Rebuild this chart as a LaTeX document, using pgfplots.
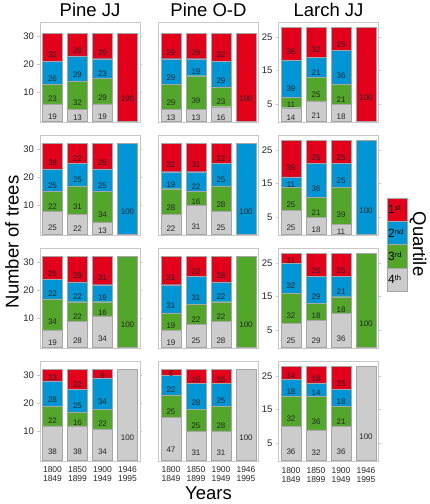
\documentclass[border=0pt]{standalone}
\usepackage{pgfplots}
\usepackage{pgfplotstable}
\pgfplotsset{compat=1.18}
\usepackage{fontspec}
\setmainfont{Liberation Sans}

\definecolor{cr}{RGB}{226,0,26}
\definecolor{cb}{RGB}{0,150,214}
\definecolor{cgn}{RGB}{82,166,42}
\definecolor{cgy}{RGB}{204,204,204}
\definecolor{frm}{RGB}{200,200,200}

% columns: x, counts of 4th,3rd,2nd,1st quartile trees, percentage labels
\pgfplotstableread{
x n4 n3 n2 n1 l4 l3 l2 l1
0 6 7 8 10 19 23 26 32
1 4 10 9 8 13 32 29 26
2 6 9 7 9 19 29 23 29
3 0 0 0 31 {} {} {} 100
}\rApj
\pgfplotstableread{
x n4 n3 n2 n1 l4 l3 l2 l1
0 4 9 9 9 13 29 29 29
1 4 12 6 9 13 39 19 29
2 5 7 9 10 16 23 29 32
3 0 0 0 31 {} {} {} 100
}\rAod
\pgfplotstableread{
x n4 n3 n2 n1 l4 l3 l2 l1
0 4 3 11 10 14 11 39 36
1 6 7 6 9 21 25 21 32
2 5 6 10 7 18 21 36 25
3 0 0 0 28 {} {} {} 100
}\rAl
\pgfplotstableread{
x n4 n3 n2 n1 l4 l3 l2 l1
0 8 7 8 9 25 22 25 28
1 7 10 8 7 22 31 25 22
2 4 11 8 9 13 34 25 28
3 0 0 32 0 {} {} 100 {}
}\rBpj
\pgfplotstableread{
x n4 n3 n2 n1 l4 l3 l2 l1
0 7 9 6 10 22 28 19 31
1 10 5 7 10 31 16 22 31
2 8 9 8 7 25 28 25 22
3 0 0 32 0 {} {} 100 {}
}\rBod
\pgfplotstableread{
x n4 n3 n2 n1 l4 l3 l2 l1
0 7 7 3 11 25 25 11 39
1 5 6 10 7 18 21 36 25
2 3 11 7 7 11 39 25 25
3 0 0 28 0 {} {} 100 {}
}\rBl
\pgfplotstableread{
x n4 n3 n2 n1 l4 l3 l2 l1
0 6 11 7 8 19 34 22 25
1 9 7 7 9 28 22 22 28
2 11 5 6 10 34 16 19 31
3 0 32 0 0 {} 100 {} {}
}\rCpj
\pgfplotstableread{
x n4 n3 n2 n1 l4 l3 l2 l1
0 6 6 10 10 19 19 31 31
1 8 7 10 7 25 22 31 22
2 9 7 7 9 28 22 22 28
3 0 32 0 0 {} 100 {} {}
}\rCod
\pgfplotstableread{
x n4 n3 n2 n1 l4 l3 l2 l1
0 7 9 9 3 25 32 32 11
1 8 5 8 7 29 18 29 25
2 10 5 6 7 36 18 21 25
3 0 28 0 0 {} 100 {} {}
}\rCl
\pgfplotstableread{
x n4 n3 n2 n1 l4 l3 l2 l1
0 12 7 9 4 38 22 28 13
1 12 5 8 7 38 16 25 22
2 11 7 11 3 34 22 34 9
3 32 0 0 0 100 {} {} {}
}\rDpj
\pgfplotstableread{
x n4 n3 n2 n1 l4 l3 l2 l1
0 15 8 7 2 47 25 22 6
1 10 8 9 5 31 25 28 16
2 10 9 8 5 31 28 25 16
3 32 0 0 0 100 {} {} {}
}\rDod
\pgfplotstableread{
x n4 n3 n2 n1 l4 l3 l2 l1
0 10 9 5 4 36 32 18 14
1 9 10 4 5 32 36 14 18
2 10 6 5 7 36 21 18 25
3 28 0 0 0 100 {} {} {}
}\rDl

\pgfplotsset{
  panel/.style={
    ybar stacked, bar width=0.8, x=25pt, xmin=-0.5, xmax=3.5,
    xtick={0,1,2,3}, xticklabels={}, major x tick style={draw=none},
    axis line style={frm, line width=0.8pt},
    anchor=north west,
    tick align=outside, major tick length=2.5pt,
    major y tick style={frm, line width=0.6pt},
    yticklabel style={font=\fontsize{9.5}{9.5}\selectfont, text=black!85},
    /pgf/number format/assume math mode=true,
    nodes near coords, point meta=explicit symbolic,
    visualization depends on={rawy \as \rawy},
    every node near coord/.append style={anchor=center,
      font=\fontsize{8}{8}\selectfont, text=black!85, inner sep=0pt},
  },
  pine/.style={y=2.825pt, ymin=-0.4, ymax=35, ytick={10,20,30},
    every node near coord/.append style={yshift=-0.70625pt*\rawy}},
  larch/.style={y=3.36pt, ymin=-0.3, ymax=29.5, ytick={5,15,25},
    every node near coord/.append style={yshift=-0.84pt*\rawy}},
  notick/.style={ytick=\empty},
  years/.style={xticklabels={{1800\\1849},{1850\\1899},{1900\\1949},{1946\\1995}},
    xticklabel style={align=center, font=\fontsize{8.5}{9}\selectfont, text=black!85}},
  seg/.style={draw=black!35, line width=0.3pt},
}

\newcommand{\panel}[4]{%
  \begin{axis}[panel, #4, at={(#2pt,#3pt)}]
    \addplot[seg, fill=cgy] table[x=x, y=n4, meta=l4] {#1};
    \addplot[seg, fill=cgn] table[x=x, y=n3, meta=l3] {#1};
    \addplot[seg, fill=cb]  table[x=x, y=n2, meta=l2] {#1};
    \addplot[seg, fill=cr]  table[x=x, y=n1, meta=l1] {#1};
  \end{axis}}

\begin{document}
\begin{tikzpicture}
\useasboundingbox (0,0) rectangle (430pt,504pt);
% row 1
\panel{\rApj}{40}{482}{pine}
\panel{\rAod}{158.5}{482}{pine,notick}
\panel{\rAl}{278.5}{482}{larch}
% row 2
\panel{\rBpj}{40}{369}{pine}
\panel{\rBod}{158.5}{369}{pine,notick}
\panel{\rBl}{278.5}{369}{larch}
% row 3
\panel{\rCpj}{40}{256}{pine}
\panel{\rCod}{158.5}{256}{pine,notick}
\panel{\rCl}{278.5}{256}{larch}
% row 4
\panel{\rDpj}{40}{143}{pine,years}
\panel{\rDod}{158.5}{143}{pine,notick,years}
\panel{\rDl}{278.5}{143}{larch,years}

% titles
\node[anchor=base, font=\fontsize{18.5}{18.5}\selectfont] at (90pt,487pt) {Pine JJ};
\node[anchor=base, font=\fontsize{18.5}{18.5}\selectfont] at (208.5pt,487pt) {Pine O-D};
\node[anchor=base, font=\fontsize{18.5}{18.5}\selectfont] at (328.5pt,487pt) {Larch JJ};
\node[anchor=base, font=\fontsize{18.5}{18.5}\selectfont] at (208.5pt,5pt) {Years};
\node[rotate=90, font=\fontsize{18.5}{18.5}\selectfont] at (12pt,262pt) {Number of trees};
\node[rotate=-90, font=\fontsize{18.5}{18.5}\selectfont] at (418pt,260pt) {Quartile};

% legend
\filldraw[fill=cr, draw=black!35, line width=0.3pt] (387pt,306pt) rectangle (407pt,282.75pt);
\filldraw[fill=cb, draw=black!35, line width=0.3pt] (387pt,282.75pt) rectangle (407pt,259.5pt);
\filldraw[fill=cgn, draw=black!35, line width=0.3pt] (387pt,259.5pt) rectangle (407pt,236.25pt);
\filldraw[fill=cgy, draw=black!35, line width=0.3pt] (387pt,236.25pt) rectangle (407pt,213pt);
\newcommand{\qlab}[2]{{\fontsize{12}{12}\selectfont #1}\raisebox{0.55ex}{\fontsize{7.5}{7.5}\selectfont #2}}
\node[anchor=west, inner sep=0pt] at (388pt,294.4pt) {\qlab{1}{st}};
\node[anchor=west, inner sep=0pt] at (388pt,271.1pt) {\qlab{2}{nd}};
\node[anchor=west, inner sep=0pt] at (388pt,247.9pt) {\qlab{3}{rd}};
\node[anchor=west, inner sep=0pt] at (388pt,224.6pt) {\qlab{4}{th}};
\end{tikzpicture}
\end{document}
